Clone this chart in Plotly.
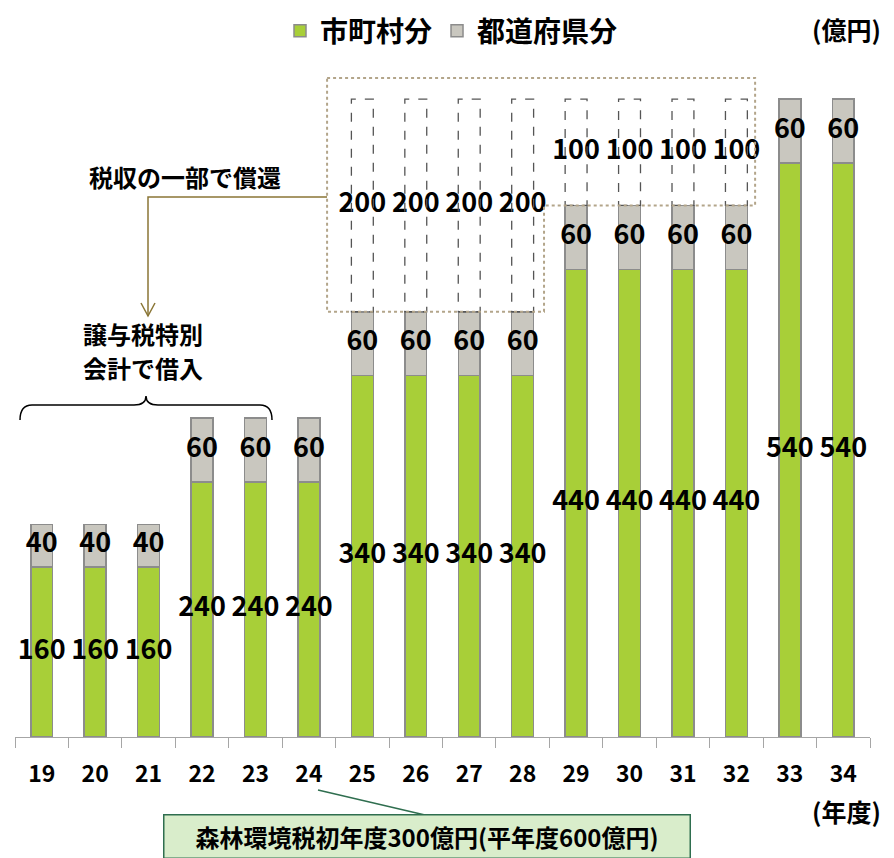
import plotly.graph_objects as go

# Fiscal years (Heisei) and amounts in 100 million yen
years = ["19", "20", "21", "22", "23", "24", "25", "26", "27", "28",
         "29", "30", "31", "32", "33", "34"]
municipal = [160, 160, 160, 240, 240, 240, 340, 340, 340, 340,
             440, 440, 440, 440, 540, 540]
prefectural = [40, 40, 40, 60, 60, 60, 60, 60, 60, 60,
               60, 60, 60, 60, 60, 60]
repayment = [0, 0, 0, 0, 0, 0, 200, 200, 200, 200,
             100, 100, 100, 100, 0, 0]

GREEN = "#a8cf38"
GRAY = "#c9c7bf"
EDGE = "#8c8c8c"
FONT = "Noto Sans CJK JP"

W, H = 894, 858
ML, MR, MT, MB = 15, 24, 46, 121
PW, PH = W - ML - MR, H - MT - MB
YMAX = 650
BAR_W = 0.41


def px(x):
    return (x - ML) / PW


def py(y):
    return (H - MB - y) / PH


xs = list(range(len(years)))
totals = [m + p for m, p in zip(municipal, prefectural)]

fig = go.Figure()
fig.add_trace(go.Bar(x=xs, y=municipal, name="市町村分", width=BAR_W,
                     marker=dict(color=GREEN, line=dict(color=EDGE, width=1.5)),
                     hoverinfo="skip"))
fig.add_trace(go.Bar(x=xs, y=prefectural, name="都道府県分", width=BAR_W,
                     marker=dict(color=GRAY, line=dict(color=EDGE, width=1.5)),
                     hoverinfo="skip"))

label_font = dict(family=FONT, size=27, color="black", weight=600)
fig.add_trace(go.Scatter(x=xs, y=[m / 2 for m in municipal], mode="text",
                         text=[str(m) for m in municipal], textfont=label_font,
                         showlegend=False, hoverinfo="skip"))
fig.add_trace(go.Scatter(x=xs, y=[m + p / 2 for m, p in zip(municipal, prefectural)],
                         mode="text", text=[str(p) for p in prefectural],
                         textfont=label_font, showlegend=False, hoverinfo="skip"))

rx = [i for i, r in enumerate(repayment) if r > 0]
fig.add_trace(go.Scatter(x=rx, y=[totals[i] + repayment[i] / 2 for i in rx],
                         mode="text", text=[str(repayment[i]) for i in rx],
                         textfont=label_font, showlegend=False, hoverinfo="skip"))

shapes = []
# dashed outlines for the repayment portion
for i in rx:
    shapes.append(dict(type="rect", xref="x", yref="y",
                       x0=i - BAR_W / 2, x1=i + BAR_W / 2,
                       y0=totals[i], y1=totals[i] + repayment[i],
                       line=dict(color="#555555", width=1.3, dash="dash"),
                       fillcolor="rgba(0,0,0,0)"))

# dotted stepped frame around the repayment portions
first, last = rx[0], rx[-1]
step = [i for i in rx if repayment[i] != repayment[first]][0]
top = max(totals[i] + repayment[i] for i in rx) + 20
frame = (f"M {first - 0.66},{top} L {last + 0.35},{top} "
         f"L {last + 0.35},{totals[step]} L {step - 0.6},{totals[step]} "
         f"L {step - 0.6},{totals[first]} L {first - 0.66},{totals[first]} Z")
shapes.append(dict(type="path", xref="x", yref="y", path=frame,
                   line=dict(color="#b3a58a", width=2, dash="dot")))

# connector from the frame down to the borrowing note
conn = f"M {px(327)},{py(197)} L {px(148)},{py(197)} L {px(148)},{py(316)}"
shapes.append(dict(type="path", xref="paper", yref="paper", path=conn,
                   line=dict(color="#8a7636", width=1.5)))
head = (f"M {px(141)},{py(303)} L {px(148)},{py(316)} L {px(155)},{py(303)}")
shapes.append(dict(type="path", xref="paper", yref="paper", path=head,
                   line=dict(color="#8a7636", width=1.5)))

# curly brace over the borrowing years
brace = (f"M {px(20)},{py(420)} Q {px(20)},{py(405)} {px(32)},{py(405)} "
         f"L {px(134)},{py(405)} Q {px(146)},{py(405)} {px(146)},{py(396)} "
         f"Q {px(146)},{py(405)} {px(158)},{py(405)} "
         f"L {px(260)},{py(405)} Q {px(272)},{py(405)} {px(272)},{py(420)}")
shapes.append(dict(type="path", xref="paper", yref="paper", path=brace,
                   line=dict(color="black", width=1.5)))

# leader line to the forest environment tax note
shapes.append(dict(type="line", xref="paper", yref="paper",
                   x0=px(318), y0=py(790), x1=px(425), y1=py(815),
                   line=dict(color="#2f6e4f", width=1.5)))

text_font = dict(family=FONT, size=24, color="black", weight=700)
annotations = [
    dict(x=px(185), y=py(176), text="税収の一部で償還", font=text_font),
    dict(x=px(143), y=py(333), text="譲与税特別", font=text_font),
    dict(x=px(143), y=py(367), text="会計で借入", font=text_font),
    dict(x=px(846), y=py(29), text="(億円)", font=dict(family=FONT, size=25, weight=700)),
    dict(x=px(846), y=py(811), text="(年度)", font=dict(family=FONT, size=25, weight=700)),
    dict(x=px(427), y=py(836), text="森林環境税初年度300億円(平年度600億円)",
         font=dict(family=FONT, size=24, weight=700, color="black"),
         bgcolor="#d9edcb", bordercolor="#2f6e4f", borderwidth=1.5,
         width=525, height=42, borderpad=0),
]
for a in annotations:
    a.update(xref="paper", yref="paper", showarrow=False,
             xanchor="center", yanchor="middle")

fig.update_layout(
    width=W, height=H,
    margin=dict(l=ML, r=MR, t=MT, b=MB, autoexpand=False),
    paper_bgcolor="white", plot_bgcolor="white",
    barmode="stack",
    font=dict(family=FONT, color="black"),
    showlegend=True,
    legend=dict(orientation="h", x=px(280), y=py(6), xanchor="left", yanchor="top",
                font=dict(family=FONT, size=28, weight=700), traceorder="normal",
                itemclick=False),
    xaxis=dict(range=[-0.5, len(years) - 0.5], tickmode="array", tickvals=xs,
               ticktext=years, ticks="", showgrid=False, zeroline=False,
               showline=True, linecolor="#a6a6a6", linewidth=1.2,
               tickfont=dict(family=FONT, size=23, color="black", weight=600),
               ticklabelstandoff=16,
               minor=dict(tick0=-0.5, dtick=1, ticks="outside", ticklen=10,
                          tickcolor="#a6a6a6", tickwidth=1.2)),
    yaxis=dict(range=[0, YMAX], visible=False),
    shapes=shapes,
    annotations=annotations,
)

fig.write_html("out.html")
